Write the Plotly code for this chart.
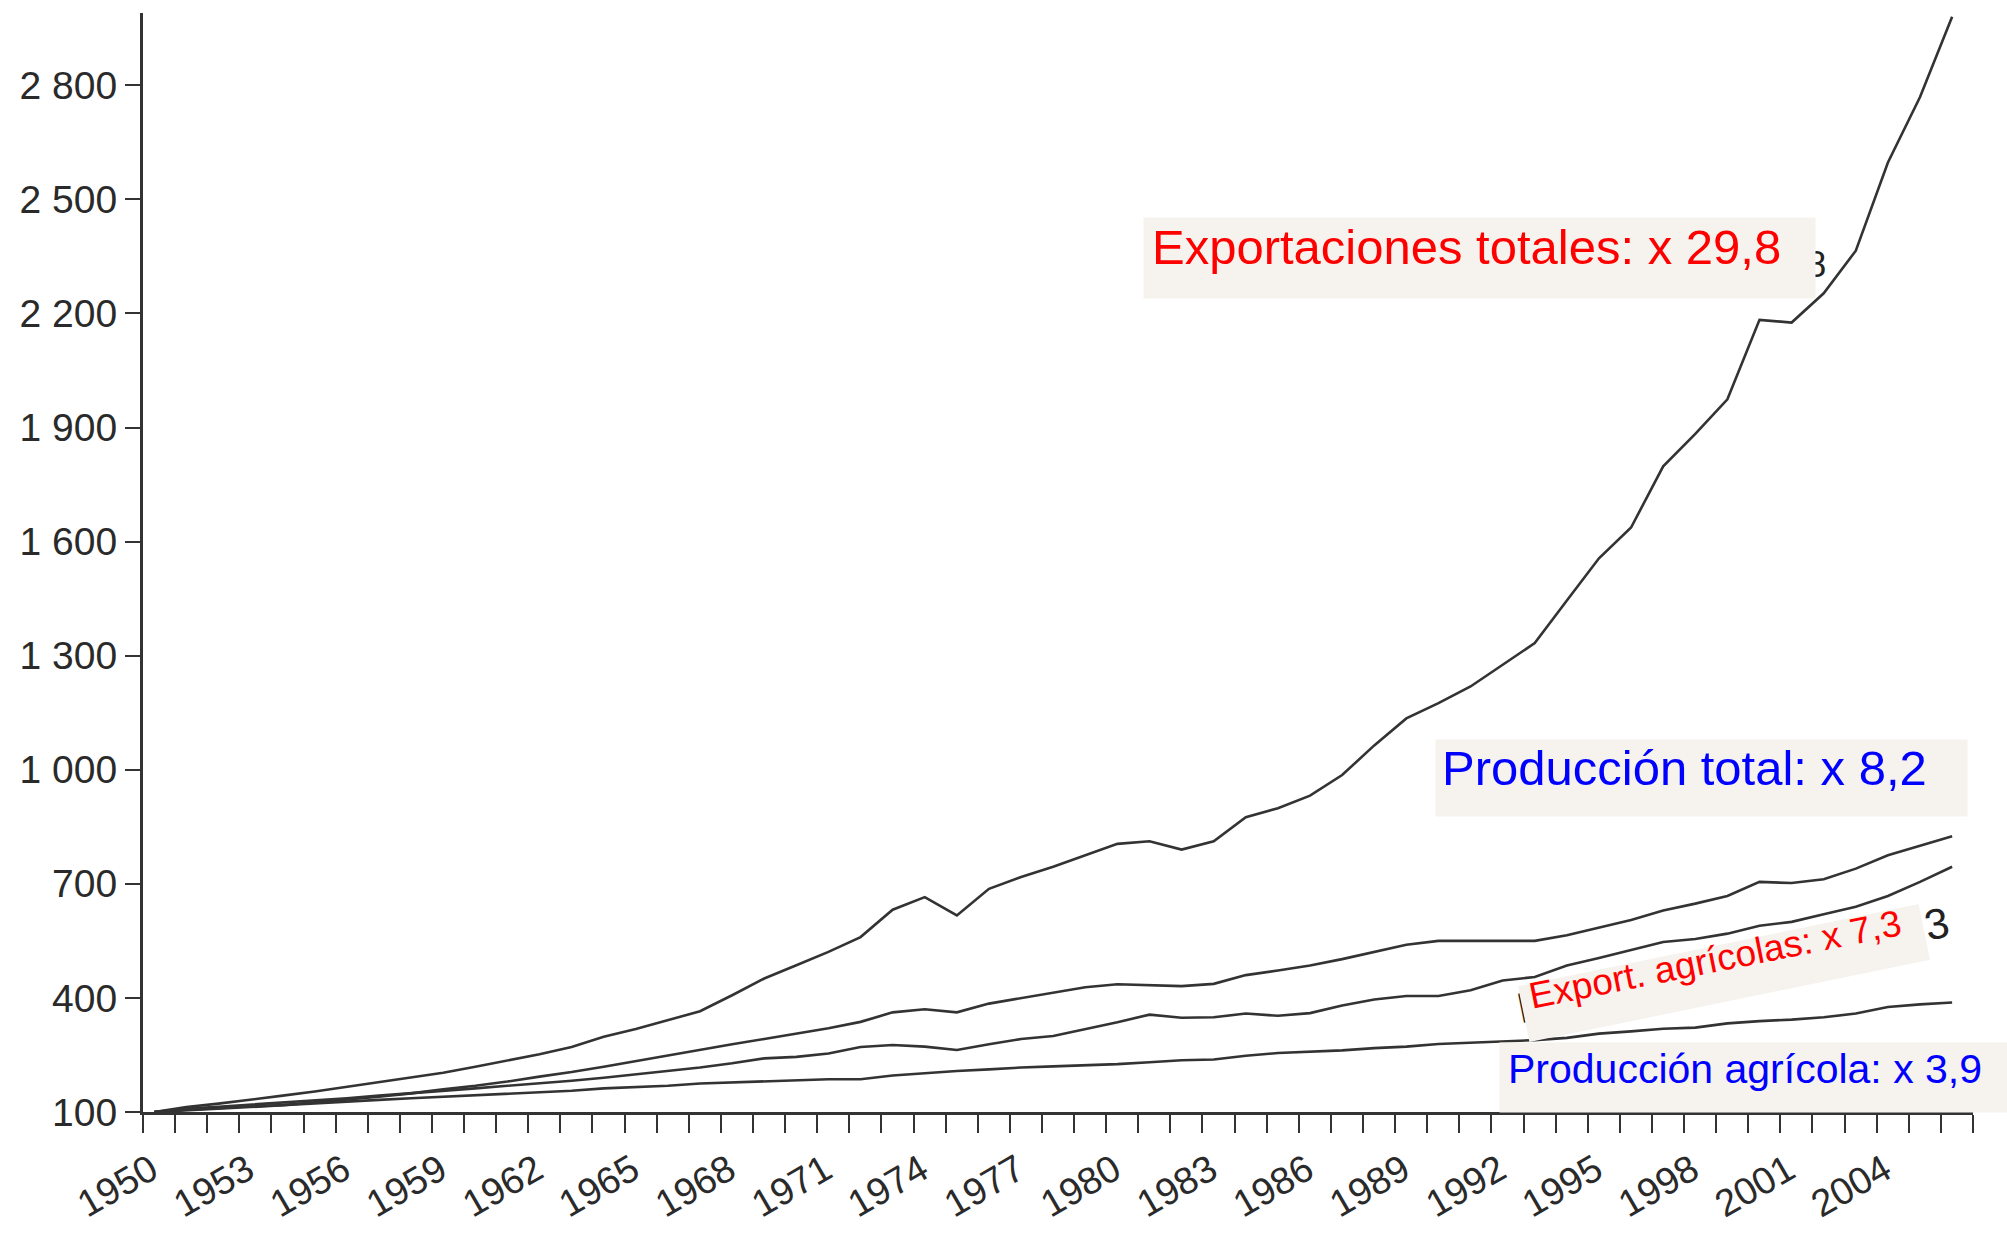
import plotly.graph_objects as go

years = list(range(1950, 2007))

exportaciones_totales = [
    100, 113, 122, 132, 143, 154, 166, 178, 190, 203,
    219, 235, 252, 271, 298, 318, 341, 365, 407, 451,
    486, 521, 560, 632, 665, 617, 687, 718, 745, 775,
    805, 812, 790, 812, 875, 899, 932, 986, 1064, 1135,
    1175, 1219, 1276, 1333, 1445, 1556, 1637, 1798, 1883, 1974,
    2183, 2176, 2253, 2365, 2597, 2769, 2980,
]
produccion_total = [
    100, 104, 109, 113, 118, 125, 132, 140, 149, 160,
    169, 180, 193, 205, 219, 234, 248, 263, 278, 292,
    305, 320, 337, 362, 370, 362, 385, 400, 415, 428,
    436, 433, 431, 437, 460, 472, 485, 502, 522, 540,
    550, 550, 549, 550, 565, 585, 605, 630, 648, 668,
    705, 702, 712, 740, 775, 800, 825,
]
export_agricolas = [
    100, 109, 114, 119, 125, 130, 136, 143, 149, 156,
    162, 169, 175, 182, 190, 199, 208, 217, 228, 241,
    245, 254, 271, 276, 272, 263, 278, 292, 300, 318,
    336, 356, 348, 349, 359, 353, 360, 380, 396, 405,
    405, 420, 446, 455, 485, 505, 525, 547, 555, 569,
    590, 600, 620, 640, 668, 705, 745,
]
produccion_agricola = [
    100, 106, 110, 115, 118, 123, 127, 132, 136, 140,
    143, 147, 152, 156, 162, 166, 169, 175, 178, 180,
    184, 186, 186, 196, 202, 208, 212, 217, 220, 223,
    226, 231, 236, 238, 248, 255, 258, 262, 268, 272,
    279, 282, 285, 289, 295, 306, 312, 319, 322, 333,
    339, 343, 349, 359, 376, 383, 388,
]

tick_years = list(range(1950, 2008))
labeled_years = list(range(1950, 2005, 3))
y_tickvals = [100, 400, 700, 1000, 1300, 1600, 1900, 2200, 2500, 2800]
y_ticktext = ["100", "400", "700", "1 000", "1 300", "1 600", "1 900", "2 200", "2 500", "2 800"]

W, H = 2007, 1241
L, R, T, B = 143, 1973, 13, 1112
FONT = "Liberation Sans, Arial, Helvetica, sans-serif"
LINE = "#333333"
BEIGE = "#f6f3ee"


def px(x):
    return (x - L) / (R - L)


def py(y):
    return (B - y) / (B - T)


fig = go.Figure()
for series in [exportaciones_totales, produccion_total, export_agricolas, produccion_agricola]:
    fig.add_trace(go.Scatter(x=years, y=series, mode="lines",
                             line=dict(color=LINE, width=2.6), showlegend=False,
                             hoverinfo="skip"))

annotations = []


def text_ann(text, x, y, size, color, xanchor="center", yanchor="middle", angle=0):
    annotations.append(dict(text=text, x=px(x), y=py(y), xref="paper", yref="paper",
                            showarrow=False, xanchor=xanchor, yanchor=yanchor,
                            textangle=angle, borderpad=0,
                            font=dict(family=FONT, size=size, color=color)))


def box_ann(x0, y0, x1, y1):
    annotations.append(dict(text=" ", x=px((x0 + x1) / 2), y=py((y0 + y1) / 2),
                            xref="paper", yref="paper", showarrow=False,
                            xanchor="center", yanchor="middle",
                            width=x1 - x0, height=y1 - y0, bgcolor=BEIGE,
                            borderpad=0, font=dict(size=2, color=BEIGE)))


def rot_box_ann(cx, cy, w, h, angle):
    annotations.append(dict(text=" ", x=px(cx), y=py(cy), xref="paper", yref="paper",
                            showarrow=False, xanchor="center", yanchor="middle",
                            width=w, height=h, bgcolor=BEIGE, textangle=angle,
                            borderpad=0, font=dict(size=2, color=BEIGE)))


# original black labels underneath (only their ends peek out)
text_ann("Exportaciones totales: x 29,8", 1827, 265, 36, "#222222", xanchor="right")
text_ann("Export. agrícolas: x 7,3", 1733, 965, 43, "#222222", angle=-11.5)

# overlay boxes and coloured labels
box_ann(1144, 218, 1815, 298)
text_ann("Exportaciones totales: x 29,8", 1151, 247.5, 49, "#ff0000", xanchor="left")

box_ann(1436, 740, 1967, 816)
text_ann("Producción total: x 8,2", 1441, 768.5, 49, "#0000ff", xanchor="left")

rot_box_ann(1724, 973, 408, 56, -11.6)
text_ann("Export. agrícolas: x 7,3", 1715, 960, 37, "#ff0000", angle=-11.3)

box_ann(1500, 1043, 2010, 1112)
text_ann("Producción agrícola: x 3,9", 1507, 1069, 41, "#0000ff", xanchor="left")

fig.update_layout(
    width=W, height=H,
    margin=dict(l=L, r=W - R, t=T, b=H - B, autoexpand=False),
    paper_bgcolor="white", plot_bgcolor="white",
    annotations=annotations,
    xaxis=dict(
        range=[1949.65, 2006.65],
        tickvals=[yr - 0.35 for yr in tick_years],
        ticktext=[str(yr) if yr in labeled_years else "" for yr in tick_years],
        tickangle=-30,
        ticks="outside", ticklen=18, tickwidth=2, tickcolor=LINE,
        showline=True, linecolor=LINE, linewidth=3,
        showgrid=False, zeroline=False,
        ticklabelshift=8,
        tickfont=dict(family=FONT, size=38, color="#2a2a2a"),
    ),
    yaxis=dict(
        range=[100, 2990],
        tickvals=y_tickvals, ticktext=y_ticktext,
        ticks="outside", ticklen=15, tickwidth=2, tickcolor=LINE,
        showline=True, linecolor=LINE, linewidth=3,
        showgrid=False, zeroline=False,
        tickfont=dict(family=FONT, size=39, color="#2a2a2a"),
    ),
)

fig.write_html("out.html", config={"displayModeBar": False},
               post_script="document.body.style.margin='0';")
